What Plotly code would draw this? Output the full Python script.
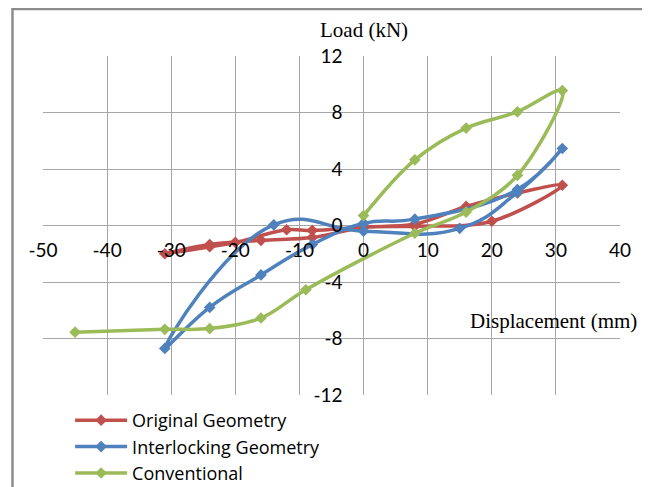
import plotly.graph_objects as go

# Data (displacement in mm, load in kN)
orig_x = [0, 8, 16, 24, 31, 20, 8, 0, -8, -16, -24, -31, -24, -20, -12, -8, 0]
orig_y = [-0.1, 0.1, 1.35, 2.3, 2.85, 0.3, -0.05, -0.15, -0.85, -1.05, -1.35, -2.0, -1.5, -1.2, -0.3, -0.35, -0.1]

inter_x = [0, 8, 24, 31, 24, 15, 0, -14, -31, -24, -16, -8, 0]
inter_y = [0.15, 0.45, 2.55, 5.45, 2.35, -0.2, -0.4, 0.05, -8.7, -5.8, -3.5, -1.35, 0.15]

conv_x = [0, 8, 16, 24, 31, 24, 16, 8, -9, -16, -24, -31, -45]
conv_y = [0.7, 4.65, 6.9, 8.05, 9.55, 3.55, 0.95, -0.55, -4.55, -6.55, -7.3, -7.35, -7.55]

series_names = ["Original Geometry", "Interlocking Geometry", "Conventional"]
series_colors = ["#C0504D", "#4F81BD", "#9BBB59"]
series_smoothing = [1.0, 1.3, 1.0]

x_ticks = [-50, -40, -30, -20, -10, 0, 10, 20, 30, 40]
y_ticks = [-12, -8, -4, 0, 4, 8, 12]

fig = go.Figure()
for name, xs, ys, col, sm in zip(series_names, [orig_x, inter_x, conv_x],
                                 [orig_y, inter_y, conv_y], series_colors,
                                 series_smoothing):
    fig.add_trace(go.Scatter(
        x=xs, y=ys, name=name, mode="lines+markers",
        line=dict(color=col, width=3.5, shape="spline", smoothing=sm),
        marker=dict(symbol="diamond", size=9, color=col),
    ))

grid = "#A6A6A6"
tick_font = dict(family="Lato, Liberation Sans, sans-serif", size=19, color="#000000")

fig.update_layout(
    width=650, height=487,
    margin=dict(l=35, r=38, t=48, b=100, autoexpand=False),
    paper_bgcolor="white", plot_bgcolor="white",
    showlegend=True,
    legend=dict(
        x=0.047, y=-0.0206, xanchor="left", yanchor="top",
        font=dict(family="Open Sans, Lato, sans-serif", size=18, color="#000000"),
        bgcolor="rgba(0,0,0,0)", itemwidth=52, tracegroupgap=0,
    ),
    xaxis=dict(
        range=[-50, 40], tickvals=x_ticks, ticktext=[str(v) for v in x_ticks],
        showgrid=True, gridcolor=grid, gridwidth=1.2,
        zeroline=False, showline=False, ticks="",
        anchor="free", position=0.5, ticklabelstandoff=11,
        tickfont=tick_font, fixedrange=True,
    ),
    yaxis=dict(
        range=[-12, 12], tickvals=y_ticks, ticktext=[str(v) for v in y_ticks],
        showgrid=True, gridcolor=grid, gridwidth=1.2,
        zeroline=False, showline=False, ticks="",
        anchor="free", position=50 / 90, ticklabelstandoff=21,
        tickfont=tick_font, fixedrange=True,
    ),
    annotations=[
        dict(text="Load (kN)", xref="x", x=0, yref="paper", y=1.077,
             showarrow=False, xanchor="center", yanchor="middle",
             font=dict(family="Liberation Serif, Times New Roman, serif", size=21, color="#000000")),
        dict(text="Displacement (mm)", xref="x", x=29.7, yref="y", y=-6.73,
             showarrow=False, xanchor="center", yanchor="middle",
             font=dict(family="Liberation Serif, Times New Roman, serif", size=21, color="#000000")),
    ],
    shapes=[
        dict(type="rect", xref="paper", yref="paper",
             x0=-0.0529, x1=1.0433, y0=-0.35, y1=1.1386,
             line=dict(color="#8C8C8C", width=2.5), layer="below"),
    ],
)

fig.write_html("out.html")
